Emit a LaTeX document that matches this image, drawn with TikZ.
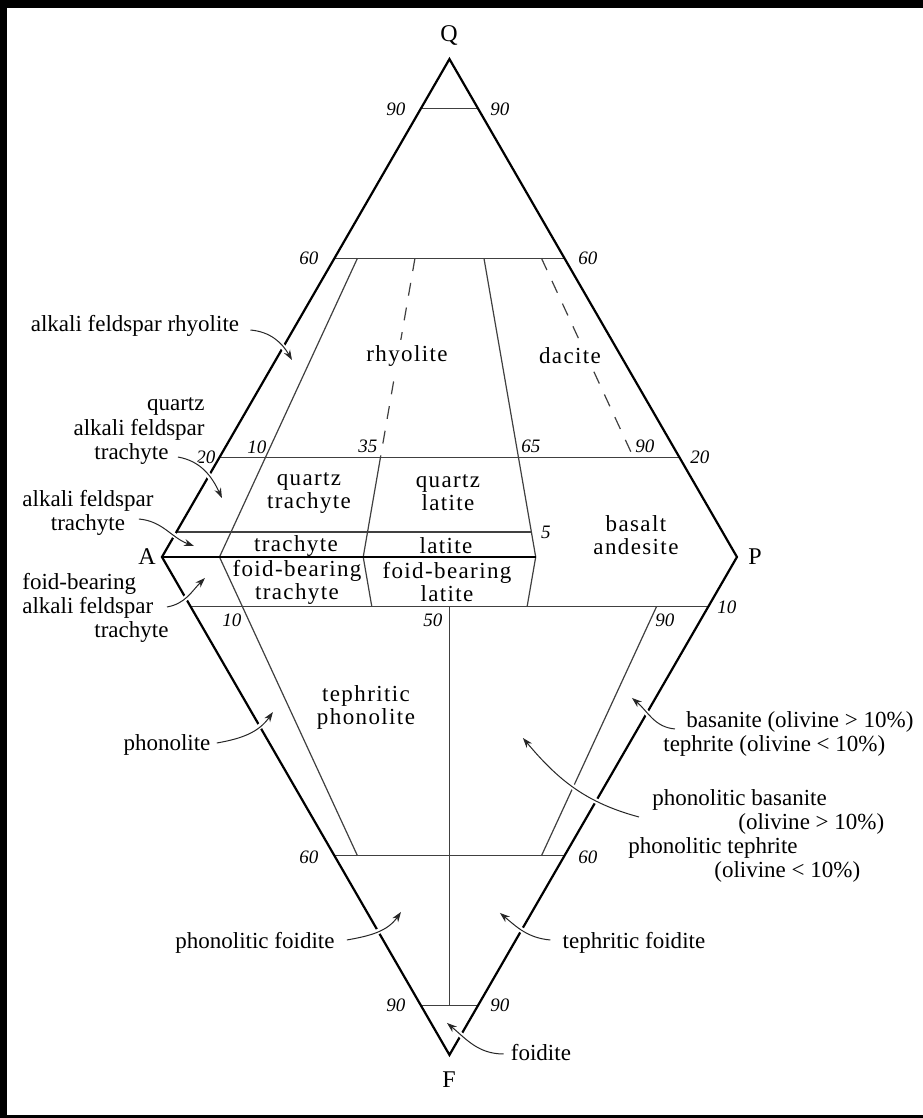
\documentclass[tikz,border=0pt]{standalone}
\usepackage{fontspec}
\setmainfont{Liberation Serif}
\newfontfamily\fieldfont[LetterSpace=6.0]{Liberation Serif}
\usetikzlibrary{arrows.meta,calc,positioning}

\tikzset{
  edge/.style={line width=1.1pt, line join=miter},
  bound/.style={line width=0.6pt, black!75},
  dashbound/.style={bound, dash pattern=on 6.5pt off 6pt},
  corner/.style={font=\fontsize{12}{14}\selectfont, inner sep=0pt},
  num/.style={font=\fontsize{9.5}{11}\selectfont\itshape, inner sep=0pt},
  field/.style={font=\fontsize{11.5}{11.5}\selectfont\fieldfont, align=center, inner sep=0pt},
  callout/.style={font=\fontsize{11.5}{12}\selectfont, inner sep=0pt},
  pointer/.style={-{Stealth[length=5pt,width=3.5pt]}, line width=0.5pt, black!85,
    preaction={draw=white, line width=2.6pt, arrows=-}},
}

\begin{document}
\begin{tikzpicture}[x=10.1cm, y=10.1cm]
  % scan frame
  \useasboundingbox (-0.2817,-0.9757) rectangle (1.3235,0.9687);
  \fill[black] (-0.2817,-0.9757) rectangle (1.3235,0.9687);
  \fill[white] (-0.2696,-0.9704) rectangle (1.3235,0.9548);

  % corners of the double triangle
  \coordinate (A) at (0,0);
  \coordinate (P) at (1,0);
  \coordinate (Q) at (0.5,0.866);
  \coordinate (F) at (0.5,-0.866);

  % P/(A+P) ratios on the A--P side
  \foreach \r in {10,35,50,65,90}
    \coordinate (b\r) at ($(A)!0.\r!(P)$);

  % Q and F levels
  \foreach \t in {0.9,0.6,0.2}
    \draw[bound] ($(A)!\t!(Q)$) -- ($(P)!\t!(Q)$);
  \foreach \t in {0.1,0.6,0.9}
    \draw[bound] ($(A)!\t!(F)$) -- ($(P)!\t!(F)$);
  \draw[bound] ($(A)!0.05!(Q)$) -- ($(b65)!0.05!(Q)$);

  % field boundaries
  \draw[bound] ($(b10)!0.6!(Q)$) -- (b10) -- ($(b10)!0.6!(F)$);
  \draw[dashbound] ($(b35)!0.6!(Q)$) -- ($(b35)!0.2!(Q)$);
  \draw[bound] ($(b35)!0.2!(Q)$) -- (b35) -- ($(b35)!0.1!(F)$);
  \draw[bound] ($(b65)!0.6!(Q)$) -- (b65) -- ($(b65)!0.1!(F)$);
  \draw[dashbound] ($(b90)!0.6!(Q)$) -- ($(b90)!0.2!(Q)$);
  \draw[bound] ($(b90)!0.1!(F)$) -- ($(b90)!0.6!(F)$);
  \draw[bound] ($(b50)!0.1!(F)$) -- ($(b50)!0.9!(F)$);

  % outline
  \draw[edge] (A) -- (Q) -- (P) -- (F) -- cycle;
  \draw[edge] (A) -- (b65);

  \node[corner] (labQ) at (0.4991,0.9078) {Q};
  \node[corner] (labF) at (0.4991,-0.9096) {F};
  \node[corner] (labA) at (-0.0261,0) {A};
  \node[corner] (labP) at (1.0313,0) {P};

  % percentages
  \node[num] (nq90l) at (0.4070,0.7791) {90};
  \node[num] (nq90r) at (0.5878,0.7791) {90};
  \node[num] (nq60l) at (0.2557,0.5200) {60};
  \node[num] (nq60r) at (0.7409,0.5200) {60};
  \node[num] (nq20l) at (0.0765,0.1739) {20};
  \node[num] (nq20r) at (0.9357,0.1739) {20};
  \node[num] (nr10) at (0.1652,0.1913) {10};
  \node[num] (nr35) at (0.3583,0.1930) {35};
  \node[num] (nr65) at (0.6417,0.1930) {65};
  \node[num] (nr90) at (0.8400,0.1930) {90};
  \node[num] (nq5) at (0.6678,0.0435) {5};
  \node[num] (nf10) at (0.1217,-0.1096) {10};
  \node[num] (nf50) at (0.4713,-0.1096) {50};
  \node[num] (nf90) at (0.8748,-0.1096) {90};
  \node[num] (nf10r) at (0.9826,-0.0870) {10};
  \node[num] (nf60l) at (0.2557,-0.5217) {60};
  \node[num] (nf60r) at (0.7409,-0.5217) {60};
  \node[num] (nf90l) at (0.4070,-0.7791) {90};
  \node[num] (nf90r) at (0.5878,-0.7791) {90};

  % fields
  \node[field, fill=white, inner sep=3pt] (rhy) at (0.4261,0.3496) {rhyolite};
  \node[field, fill=white, inner sep=3pt] (dac) at (0.7096,0.3496) {dacite};
  \node[field] (qtra) at (0.2557,0.1113) {quartz\\trachyte};
  \node[field] (qlat) at (0.4974,0.1113) {quartz\\latite};
  \node[field] (tra) at (0.2330,0.0191) {trachyte};
  \node[field] (lat) at (0.4939,0.0191) {latite};
  \node[field] (fbtra) at (0.2348,-0.0435) {foid-bearing\\trachyte};
  \node[field] (fblat) at (0.4957,-0.0435) {foid-bearing\\latite};
  \node[field] (basand) at (0.8243,0.0383) {basalt\\andesite};
  \node[field] (tphon) at (0.3548,-0.2609) {tephritic\\phonolite};

  % names outside the fields
  \node[callout] (afr) at (-0.0470,0.4017) {alkali feldspar rhyolite};
  \node[callout, align=right, anchor=east] (qaft) at (0.0748,0.2191)
    {quartz\\alkali feldspar\hspace*{6pt}\\trachyte\hspace*{18pt}};
  \node[callout, align=center] (aft) at (-0.1287,0.0765) {alkali feldspar\\trachyte};
  \node[callout, align=left, anchor=west] (fbaft) at (-0.2435,-0.0887)
    {foid-bearing\\alkali feldspar\\\hspace*{36pt}trachyte};
  \node[callout] (phon) at (0.0087,-0.3270) {phonolite};
  \node[callout] (phf) at (0.1617,-0.6713) {phonolitic foidite};
  \node[callout] (tef) at (0.8209,-0.6713) {tephritic foidite};
  \node[callout] (foid) at (0.6591,-0.8626) {foidite};
  \node[callout, align=left, anchor=west] (bas) at (0.8713,-0.3078)
    {\hspace*{11.5pt}basanite (olivine > 10\%)\\tephrite (olivine < 10\%)};
  \node[callout, align=left, anchor=west] (pbas) at (0.8104,-0.4852)
    {\hspace*{12pt}phonolitic basanite\\\hspace*{55pt}(olivine > 10\%)\\phonolitic tephrite\\\hspace*{43pt}(olivine < 10\%)};

  % arrow tips inside the fields
  \coordinate (afr-tip) at (0.2261,0.3426);
  \coordinate (qaft-tip) at (0.1043,0.1026);
  \coordinate (aft-tip) at (0.0557,0.0191);
  \coordinate (fbaft-tip) at (0.0748,-0.0365);
  \coordinate (phon-tip) at (0.1930,-0.2696);
  \coordinate (phf-tip) at (0.4157,-0.6174);
  \coordinate (tef-tip) at (0.5878,-0.6191);
  \coordinate (foid-tip) at (0.4957,-0.8104);
  \coordinate (bas-tip) at (0.8174,-0.2452);
  \coordinate (pbas-tip) at (0.6278,-0.3148);

  \draw[pointer] ([xshift=5.5pt,yshift=-2pt]afr.east) to[out=-5,in=120] (afr-tip);
  \draw[pointer] ([xshift=-13.5pt,yshift=-13pt]qaft.east) to[out=-10,in=115] (qaft-tip);
  \draw[pointer] ([xshift=-7.5pt,yshift=-3pt]aft.east) to[out=-5,in=160] (aft-tip);
  \draw[pointer] ([xshift=72.5pt,yshift=0.5pt]fbaft.west) to[out=10,in=-135] (fbaft-tip);
  \draw[pointer] ([xshift=3pt,yshift=1pt]phon.east) to[out=10,in=-125] (phon-tip);
  \draw[pointer] ([xshift=6pt,yshift=1.5pt]phf.east) to[out=10,in=-125] (phf-tip);
  \draw[pointer] ([xshift=-6pt,yshift=1.5pt]tef.west) to[out=175,in=-40] (tef-tip);
  \draw[pointer] ([xshift=-3.5pt,yshift=-0.5pt]foid.west) to[out=180,in=-40] (foid-tip);
  \draw[pointer] ([xshift=6pt,yshift=2.5pt]bas.west) to[out=175,in=-40] (bas-tip);
  \draw[pointer] ([xshift=5.5pt,yshift=9.5pt]pbas.west) to[out=165,in=-50] (pbas-tip);
\end{tikzpicture}
\end{document}
